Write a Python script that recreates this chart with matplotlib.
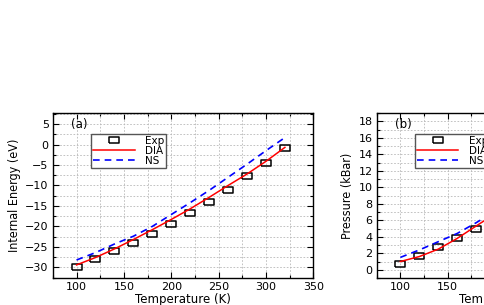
import numpy as np
import matplotlib
matplotlib.use("Agg")
import matplotlib.pyplot as plt
from matplotlib.ticker import MultipleLocator

# panel (a): internal energy
temp_a = [100, 120, 140, 160, 180, 200, 220, 240, 260, 280, 300, 320]
exp_a = [-29.9, -28.0, -26.1, -24.1, -21.9, -19.4, -16.8, -14.0, -11.0, -7.8, -4.5, -0.9]
dia_a = [-29.4, -27.6, -25.5, -23.2, -20.8, -18.3, -15.7, -12.9, -10.0, -7.2, -4.1, -0.7]
ns_a = [-28.2, -26.4, -24.3, -22.4, -20.0, -17.1, -14.2, -11.2, -8.0, -4.8, -1.5, 1.7]

# panel (b): pressure (cut off at the right edge of the picture)
temp_b = [100, 120, 140, 160, 180, 200]
exp_b = [0.7, 1.7, 2.7, 3.8, 5.0, 6.3]
dia_b = [1.0, 1.6, 2.5, 3.8, 5.3, 6.8]
ns_b = [1.5, 2.4, 3.4, 4.4, 5.7, 7.1]

plt.rcParams['font.family'] = ['DejaVu Sans']
narrow = ['DejaVu Sans Condensed', 'Liberation Sans Narrow', 'DejaVu Sans']
box = [(-1.5, -1), (1.5, -1), (1.5, 1), (-1.5, 1), (-1.5, -1)]


def style_axes(ax, ylim, ymajor, yminor, ylabel, tag):
    ax.set_xlim(75, 350)
    ax.set_ylim(*ylim)
    ax.xaxis.set_major_locator(MultipleLocator(50))
    ax.xaxis.set_minor_locator(MultipleLocator(25))
    ax.yaxis.set_major_locator(MultipleLocator(ymajor))
    ax.yaxis.set_minor_locator(MultipleLocator(yminor))
    ax.tick_params(which='both', direction='in', top=True, right=True,
                   labelsize=8, width=0.8, pad=3)
    ax.tick_params(which='major', length=4)
    ax.tick_params(which='minor', length=2)
    ax.grid(True, which='both', ls=(0, (2, 2)), color='#b8b8b8', lw=0.6)
    for s in ax.spines.values():
        s.set_linewidth(1.0)
    ax.set_xlabel('Temperature (K)', fontsize=8.5, labelpad=0.5)
    ax.set_ylabel(ylabel, fontsize=9, family=narrow, fontstretch='condensed',
                  labelpad=3)
    ax.text(0.07, 0.93, tag, transform=ax.transAxes, fontsize=8.5,
            va='center', ha='left')


def draw(ax, t, e, d, n):
    ax.plot(t, e, ls='none', marker=box, ms=6.5, mfc='none', mec='black',
            mew=1.1, label='Exp')
    ax.plot(t, d, color='red', lw=1.1, label='DIA')
    ax.plot(t, n, color='blue', lw=1.2, ls=(0, (4, 3)), label='NS')
    ax.legend(loc='upper left', bbox_to_anchor=(0.146, 0.875), borderaxespad=0,
              fancybox=False, edgecolor='#555555', framealpha=1, fontsize=7.5,
              handlelength=4.0, handletextpad=1.0, labelspacing=0.0,
              borderpad=0.2)


fig = plt.figure(figsize=(4.85, 3.05), dpi=100)
ax1 = fig.add_axes([0.109, 0.0885, 0.537, 0.541])
ax2 = fig.add_axes([0.7767, 0.0885, 0.537, 0.541])

draw(ax1, temp_a, exp_a, dia_a, ns_a)
style_axes(ax1, (-32.6, 7.7), 5, 2.5, 'Internal Energy (eV)', '(a)')

draw(ax2, temp_b, exp_b, dia_b, ns_b)
style_axes(ax2, (-1, 19), 2, 1, 'Pressure (kBar)', '(b)')

fig.savefig('out.png', dpi=100)
